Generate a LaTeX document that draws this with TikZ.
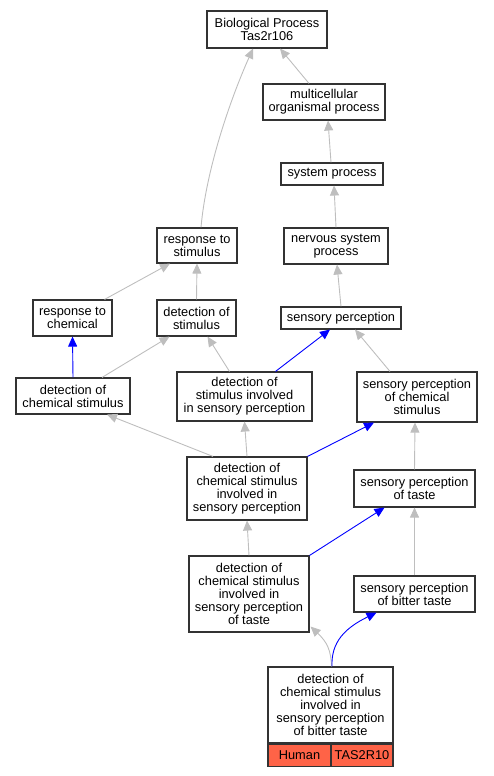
\documentclass[tikz,border=0pt]{standalone}
\usepackage{fontspec}
\setmainfont{Liberation Sans}
\usepackage{tikz}
\usetikzlibrary{
    arrows.meta,
    calc
}
\definecolor{edgeGray}{RGB}{190,190,190}
\definecolor{tomato}{RGB}{255,99,71}
\tikzset{
  term/.style  = {draw=black!80, line width=1.1pt, fill=white, align=center,
                  inner sep=0pt, font=\fontsize{12.8}{13}\selectfont},
  cell/.style  = {draw=black!80, line width=1.1pt, fill=tomato, inner sep=0pt,
                  minimum height=22, font=\fontsize{12.8}{13}\selectfont},
  arrg/.style  = {-{Triangle[length=10pt,width=9pt]}, edgeGray, line width=0.9pt},
  arrb/.style  = {-{Triangle[length=10pt,width=9pt]}, blue, line width=0.9pt}
}

\begin{document}
\begin{tikzpicture}[x=1pt, y=-1pt]
  \useasboundingbox (0,0) rectangle (493,776);

  % ontology terms
  \node[term, minimum width=120, minimum height=37] (bp)      at (267,29.5)   {Biological Process\\Tas2r106};
  \node[term, minimum width=122, minimum height=36] (multi)   at (324,102)    {multicellular\\organismal process};
  \node[term, minimum width=102, minimum height=22] (sysproc) at (332,174)    {system process};
  \node[term, minimum width=104, minimum height=36] (nerv)    at (336,246)    {nervous system\\process};
  \node[term, minimum width=80,  minimum height=35] (resp)    at (197,245.5)  {response to\\stimulus};
  \node[term, minimum width=79,  minimum height=36] (rchem)   at (72.5,318)   {response to\\chemical};
  \node[term, minimum width=79,  minimum height=36] (dstim)   at (196.5,318)  {detection of\\stimulus};
  \node[term, minimum width=120, minimum height=22] (sp)      at (341,318)    {sensory perception};
  \node[term, minimum width=114, minimum height=36] (dchem)   at (73,396)     {detection of\\chemical stimulus};
  \node[term, minimum width=135, minimum height=49] (dstimsp) at (244.5,396.5){detection of\\stimulus involved\\in sensory perception};
  \node[term, minimum width=120, minimum height=50] (spchem)  at (417,397)    {sensory perception\\of chemical\\stimulus};
  \node[term, minimum width=120, minimum height=63] (dcsp)    at (247,488.5)  {detection of\\chemical stimulus\\involved in\\sensory perception};
  \node[term, minimum width=121, minimum height=37] (taste)   at (414.5,488.5){sensory perception\\of taste};
  \node[term, minimum width=120, minimum height=76] (dtaste)  at (249,594)    {detection of\\chemical stimulus\\involved in\\sensory perception\\of taste};
  \node[term, minimum width=121, minimum height=36] (bitter)  at (414.5,594)  {sensory perception\\of bitter taste};
  \node[term, minimum width=125, minimum height=76] (bot)     at (330.5,705)  {detection of\\chemical stimulus\\involved in\\sensory perception\\of bitter taste};
  \node[cell, minimum width=63, anchor=north west] (human) at (bot.south west) {Human};
  \node[cell, minimum width=62, anchor=north east] (gene)  at (bot.south east) {TAS2R10};

  % is_a / part_of links
  \draw[arrg] ([xshift=-15]multi.north) -- ([xshift=13]bp.south);
  \draw[arrg] ([xshift=4]resp.north) .. controls (206,170) and (230,100) .. ([xshift=-14]bp.south);
  \draw[arrg] ([xshift=-1]sysproc.north) -- ([xshift=4]multi.south);
  \draw[arrg] (nerv.north) -- ([xshift=2]sysproc.south);
  \draw[arrg] (sp.north) -- ([xshift=1]nerv.south);
  \draw[arrg] ([xshift=32]rchem.north) -- ([xshift=-27]resp.south);
  \draw[arrg] (dstim.north) -- (resp.south);
  \draw[arrb] (dchem.north) -- (rchem.south);
  \draw[arrg] ([xshift=29]dchem.north) -- ([xshift=-27]dstim.south);
  \draw[arrg] ([xshift=-15]dstimsp.north) -- ([xshift=11]dstim.south);
  \draw[arrb] ([xshift=31]dstimsp.north) -- ([xshift=-11]sp.south);
  \draw[arrg] ([xshift=-27]spchem.north) -- ([xshift=14]sp.south);
  \draw[arrg] ([xshift=-34]dcsp.north) -- ([xshift=34]dchem.south);
  \draw[arrg] (dcsp.north) -- (dstimsp.south);
  \draw[arrb] (dcsp.north east) -- ([xshift=-43]spchem.south);
  \draw[arrg] (taste.north) -- ([xshift=-2]spchem.south);
  \draw[arrg] (dtaste.north) -- (dcsp.south);
  \draw[arrb] (dtaste.north east) -- ([xshift=-30]taste.south);
  \draw[arrg] (bitter.north) -- (taste.south);
  \draw[arrg] ([xshift=1]bot.north) .. controls (331,650) and (327,642) .. ([xshift=1,yshift=6]dtaste.south east);
  \draw[arrb] ([xshift=1.5]bot.north) .. controls (331,642) and (345,628) .. ([xshift=-38]bitter.south);
\end{tikzpicture}
\end{document}
